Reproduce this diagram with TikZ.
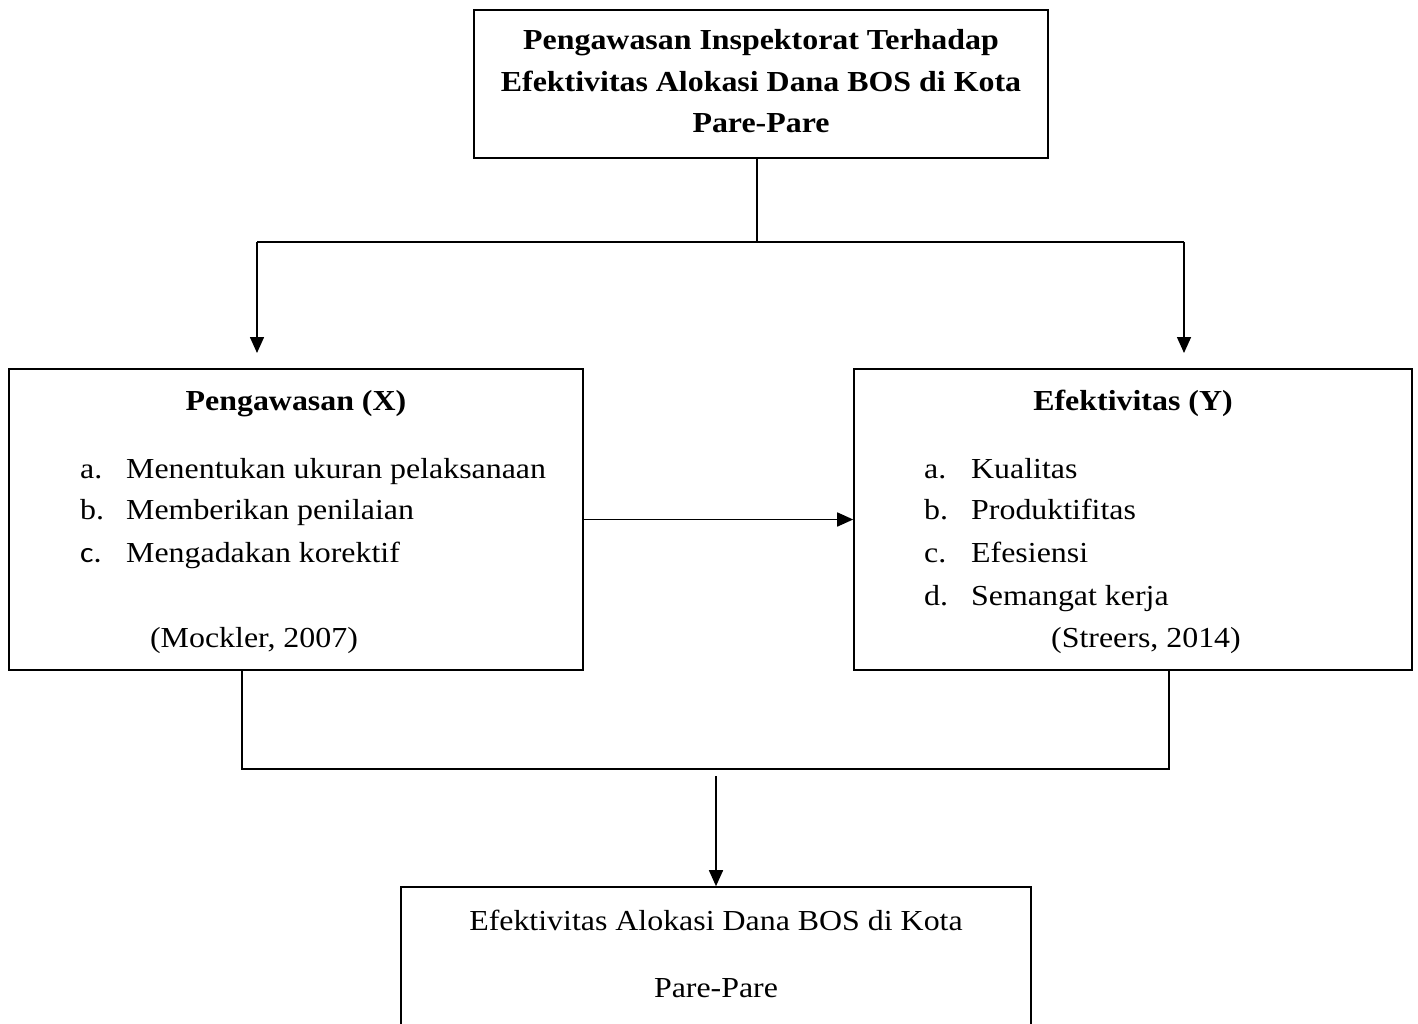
\documentclass[tikz,border=0pt]{standalone}
\usepackage{fontspec}
\setmainfont[FakeStretch=1.1]{Liberation Serif}
\newfontfamily\calfont[FakeStretch=1.1]{Carlito}
\usetikzlibrary{arrows.meta}
\tikzset{
  boxstyle/.style={draw, line width=1.6pt, inner sep=0pt},
  txt/.style={anchor=base, inner sep=0pt, font=\fontsize{29}{42}\selectfont},
  btxt/.style={anchor=base, inner sep=0pt, font=\fontsize{29}{42}\selectfont\bfseries},
  item/.style={anchor=base west, inner sep=0pt, font=\fontsize{29}{42}\selectfont},
  conn/.style={line width=1.6pt},
  arr/.style={line width=1.6pt, -{Triangle[length=16pt,width=14pt]}}
}
\begin{document}
\begin{tikzpicture}[x=1pt,y=-1pt]
\useasboundingbox (0,0) rectangle (1418,1024);
% boxes
\node[boxstyle, minimum width=574pt, minimum height=148pt] (top) at (761,84) {};
\node[boxstyle, minimum width=574pt, minimum height=301pt] (lx) at (296,519.5) {};
\node[boxstyle, minimum width=558pt, minimum height=301pt] (ry) at (1133,519.5) {};
\node[boxstyle, minimum width=630pt, minimum height=170pt] (bot) at (716,972) {};
% top text
\node[btxt] (t1) at (761,50) {Pengawasan Inspektorat Terhadap};
\node[btxt] (t2) at (761,92) {Efektivitas Alokasi Dana BOS di Kota};
\node[btxt] (t3) at (761,133) {Pare-Pare};
% left text
\node[btxt] (lxt) at (296,410) {Pengawasan (X)};
\node[item] (la) at (80,478) {a.};
\node[item] (lat) at (126,478) {Menentukan ukuran pelaksanaan};
\node[item] (lb) at (80,519) {b.};
\node[item] (lbt) at (126,519) {Memberikan penilaian};
\node[item, font=\fontsize{29}{42}\calfont] (lc) at (80,562) {c.};
\node[item] (lct) at (126,562) {Mengadakan korektif};
\node[txt] (lref) at (254,647) {(Mockler, 2007)};
% right text
\node[btxt] (ryt) at (1133,410) {Efektivitas (Y)};
\node[item] (ra) at (924,478) {a.};
\node[item] (rat) at (971,478) {Kualitas};
\node[item] (rb) at (924,519) {b.};
\node[item] (rbt) at (971,519) {Produktifitas};
\node[item] (rc) at (924,562) {c.};
\node[item] (rct) at (971,562) {Efesiensi};
\node[item] (rd) at (924,605) {d.};
\node[item] (rdt) at (971,605) {Semangat kerja};
\node[txt] (rref) at (1146,647) {(Streers, 2014)};
% bottom text
\node[txt] (b1) at (716,930) {Efektivitas Alokasi Dana BOS di Kota};
\node[txt] (b2) at (716,997) {Pare-Pare};
% coordinates
\coordinate (j1) at (757,242);
\coordinate (jl) at (257,242);
\coordinate (jr) at (1184,242);
\coordinate (al) at (257,353);
\coordinate (ar) at (1184,353);
\coordinate (lbot) at (242,670);
\coordinate (rbot) at (1169,670);
\coordinate (m1) at (716,776);
% connectors
\draw[conn] (top.south -| j1) -- (j1);
\draw[conn] (jl) -- (jr);
\draw[arr] (jl) -- (al);
\draw[arr] (jr) -- (ar);
\draw[arr] (lx.east) -- (ry.west);
\draw[conn] (lbot) -- (242,769) -- (1169,769) -- (rbot);
\draw[arr] (m1) -- (bot.north);
\end{tikzpicture}
\end{document}
